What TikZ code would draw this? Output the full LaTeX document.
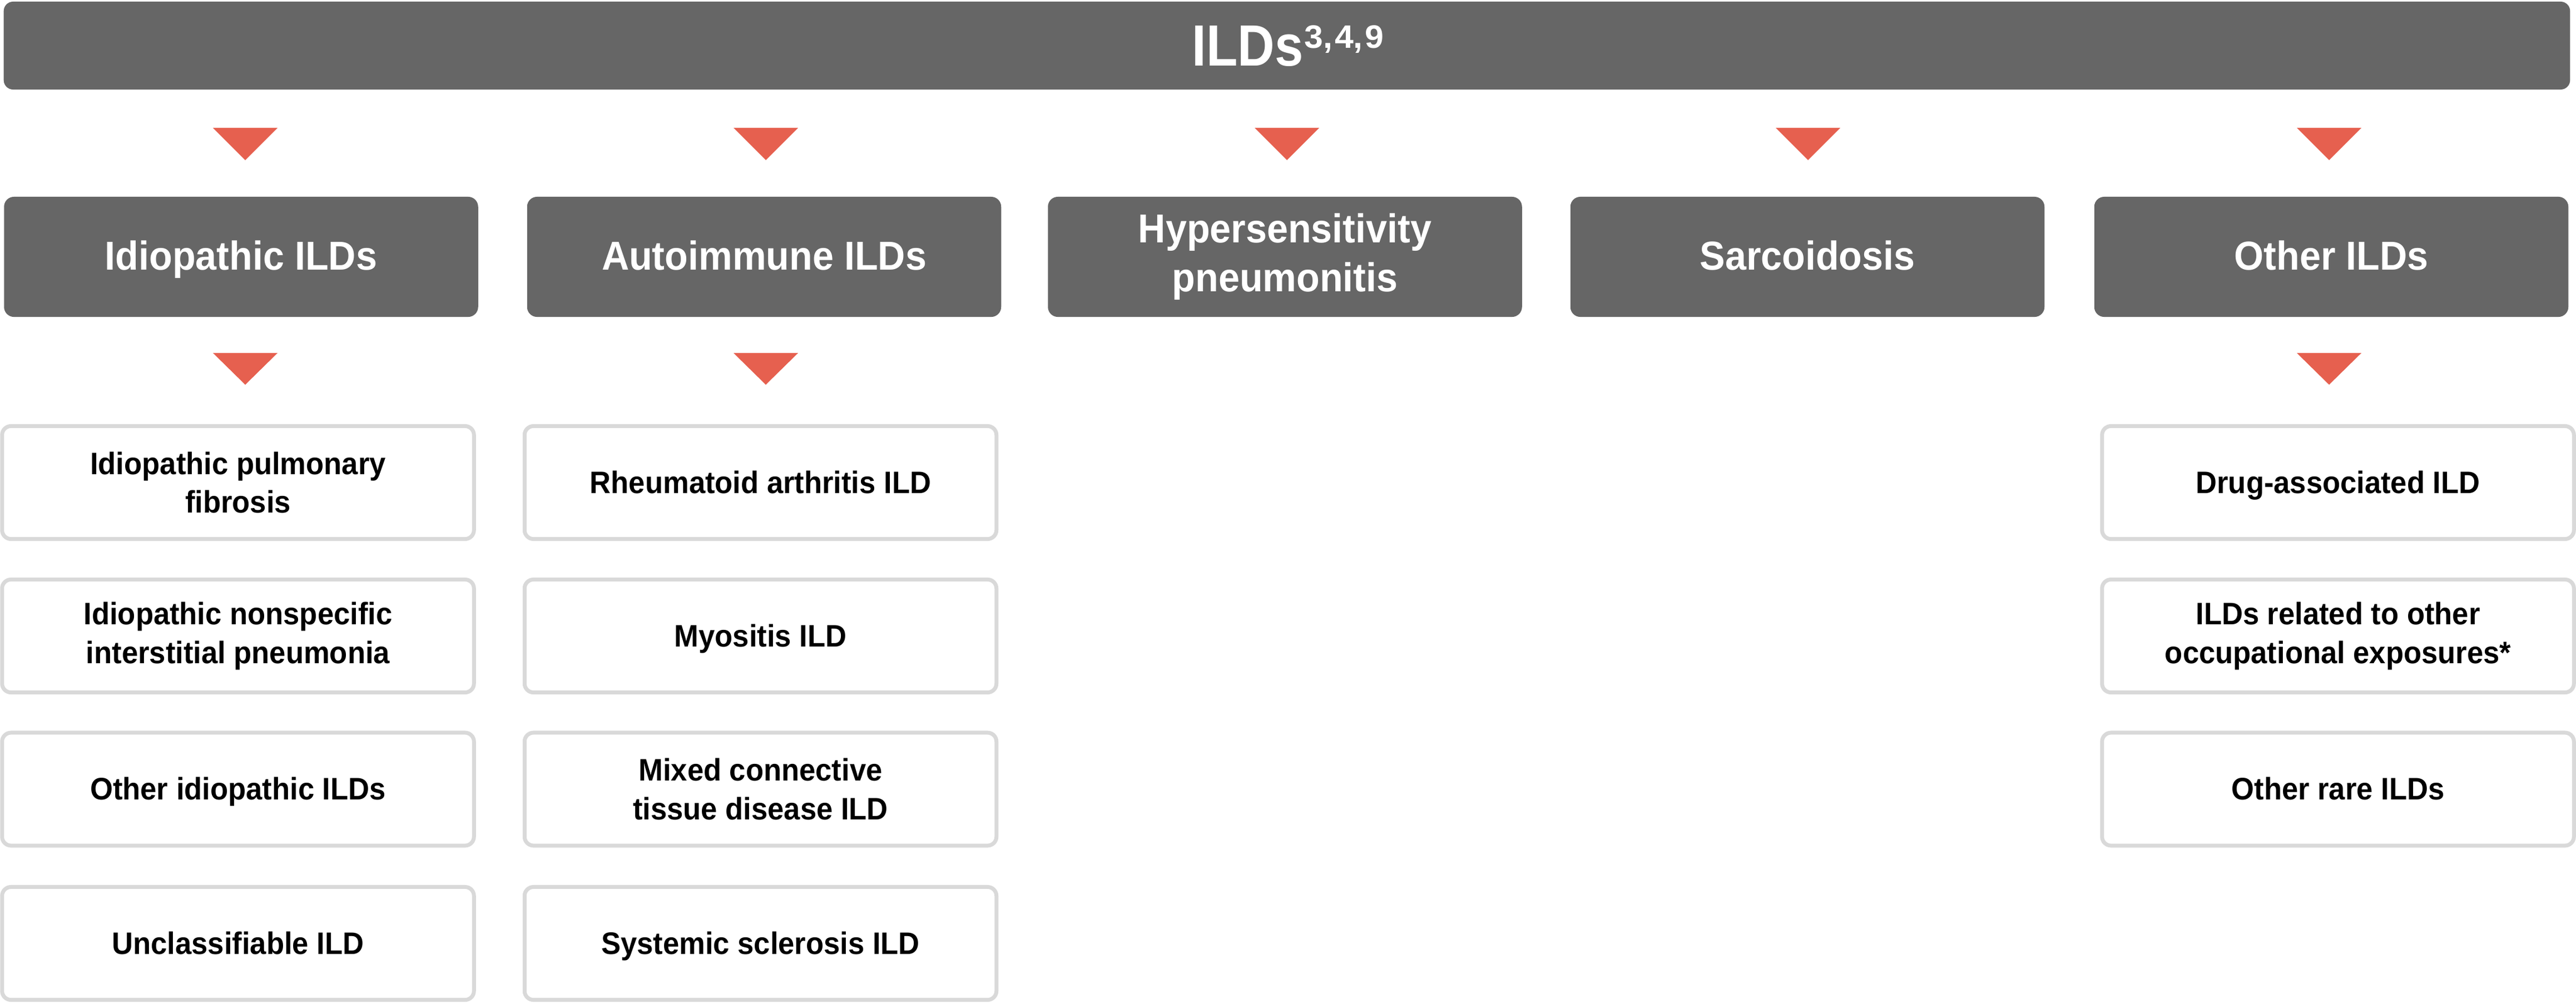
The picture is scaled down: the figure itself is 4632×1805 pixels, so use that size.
\documentclass[tikz,border=0pt]{standalone}
\usepackage{fontspec}
\setmainfont{Liberation Sans}[FakeStretch=0.94]
\newfontfamily\titlefont{Liberation Sans}[FakeStretch=0.88]
\newfontfamily\supfont{Liberation Sans}[FakeStretch=1.04]
\definecolor{boxgray}{HTML}{666666}
\definecolor{coral}{HTML}{E6604F}
\definecolor{bordergray}{HTML}{D9D9D9}
\begin{document}
\begin{tikzpicture}[x=0.01cm,y=-0.01cm,
  topbar/.style={fill=boxgray, rounded corners=0.17cm, minimum width=46.12cm, minimum height=1.58cm, inner sep=0pt},
  titletext/.style={anchor=base, text=white, inner sep=0pt, font=\titlefont\bfseries\fontsize{29.8pt}{30pt}\selectfont},
  catbox/.style={fill=boxgray, rounded corners=0.18cm, minimum width=8.52cm, minimum height=2.16cm, inner sep=0pt, text=white, align=center, font=\bfseries\fontsize{20.65pt}{25pt}\selectfont},
  catone/.style={catbox, text height=17.9pt, text depth=4.34pt},
  subbox/.style={draw=bordergray, line width=0.07cm, fill=white, rounded corners=0.16cm, minimum width=8.48cm, minimum height=2.03cm, inner sep=0pt, text=black, align=center, font=\bfseries\fontsize{15.9pt}{19.8pt}\selectfont},
  subone/.style={subbox, text height=14.16pt, text depth=3.34pt},
  arrowtri/.style={fill=coral}
]
\useasboundingbox (0,0) rectangle (4632,1805);

% top bar
\node[topbar] (top) at (2314,82) {};
\node[titletext] (title) at (2316,118) {ILDs\kern0.02cm\raisebox{0.31cm}{\supfont\bfseries\fontsize{16.6pt}{17pt}\selectfont 3,\kern0.04cm4,\kern0.04cm9}};

% triangles row 1
\foreach \x in {441,1377,2314,3251,4188}
  \fill[arrowtri] (\x-58,230) -- (\x+58,230) -- (\x,288) -- cycle;

% category boxes
\node[catone] (b1) at (433.5,462) {Idiopathic ILDs};
\node[catone] (b2) at (1374,462) {Autoimmune ILDs};
\node[catbox] (b3) at (2310.5,462) {Hypersensitivity\\pneumonitis};
\node[catone] (b4) at (3250,462) {Sarcoidosis};
\node[catone] (b5) at (4192,462) {Other ILDs};

% triangles row 2
\foreach \x in {441,1377,4188}
  \fill[arrowtri] (\x-58,635) -- (\x+58,635) -- (\x,692) -- cycle;

% column 1
\node[subbox] (s11) at (428,868) {Idiopathic pulmonary\\fibrosis};
\node[subbox] (s12) at (428,1144) {Idiopathic nonspecific\\interstitial pneumonia};
\node[subone] (s13) at (428,1419.5) {Other idiopathic ILDs};
\node[subone] (s14) at (428,1697) {Unclassifiable ILD};

% column 2
\node[subone] (s21) at (1367.5,868) {Rheumatoid arthritis ILD};
\node[subone] (s22) at (1367.5,1144) {Myositis ILD};
\node[subbox] (s23) at (1367.5,1419.5) {Mixed connective\\tissue disease ILD};
\node[subone] (s24) at (1367.5,1697) {Systemic sclerosis ILD};

% column 5
\node[subone] (s51) at (4204,868) {Drug-associated ILD};
\node[subbox] (s52) at (4204,1144) {ILDs related to other\\occupational exposures*};
\node[subone] (s53) at (4204,1419.5) {Other rare ILDs};
\end{tikzpicture}
\end{document}
